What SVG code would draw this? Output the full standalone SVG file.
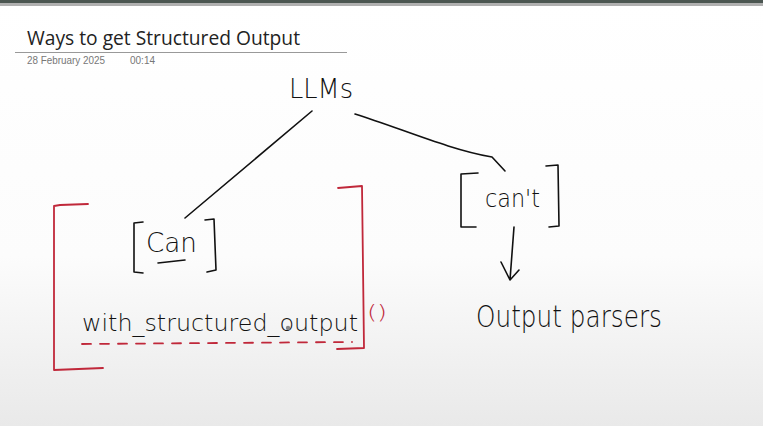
<svg xmlns="http://www.w3.org/2000/svg" width="763" height="426" viewBox="0 0 763 426">
<defs>
<linearGradient id="bg" x1="0" y1="0" x2="0" y2="426" gradientUnits="userSpaceOnUse">
<stop offset="0" stop-color="#ffffff"/>
<stop offset="0.6" stop-color="#fcfcfc"/>
<stop offset="1" stop-color="#e9e9e9"/>
</linearGradient>
<style>
.ink{fill:none;stroke:#111;stroke-width:1.6;stroke-linecap:round;stroke-linejoin:round}
.red{fill:none;stroke:#c0283a;stroke-width:1.8;stroke-linecap:round;stroke-linejoin:round}
.hw{font-family:"DejaVu Sans","Noto Sans",sans-serif;font-weight:300;fill:#111}
.meta{font-family:"Liberation Sans",Arial,sans-serif;font-size:10px;fill:#777}
</style>
</defs>
<rect width="763" height="426" fill="url(#bg)"/>
<rect width="763" height="3" fill="#4b5651"/>
<rect y="3" width="763" height="3" fill="#b0b0b0"/>
<g id="header">
<text x="27" y="45" font-family="'Open Sans','Liberation Sans',sans-serif" font-size="20" fill="#222" textLength="273" lengthAdjust="spacingAndGlyphs">Ways to get Structured Output</text>
<line x1="15" y1="52.5" x2="347" y2="52.5" stroke="#999" stroke-width="1"/>
<text class="meta" x="27" y="64" textLength="78" lengthAdjust="spacingAndGlyphs">28 February 2025</text>
<text class="meta" x="130" y="64" textLength="25" lengthAdjust="spacingAndGlyphs">00:14</text>
</g>
<g id="connectors">
<path class="ink" d="M312,111 L185,218"/>
<path class="ink" d="M355,114 C400,128 450,150 492,157 L505,171"/>
<path class="ink" d="M514,227 L510,280 M501,262 L510,280 L519,270"/>
</g>
<g id="llms">
<text class="hw" x="289" y="98" font-size="27" textLength="64" lengthAdjust="spacingAndGlyphs">LLMs</text>
</g>
<g id="can">
<path class="ink" d="M143,222 L134,223 L134,272 L143,273"/>
<path class="ink" d="M205,220 L214,219 L216,270 L207,272"/>
<text class="hw" x="146" y="252" font-size="26" textLength="51" lengthAdjust="spacingAndGlyphs">Can</text>
<path class="ink" d="M158,263 L185,260"/>
</g>
<g id="cant">
<path class="ink" d="M478,173 L461,174 L461,227 L476,227"/>
<path class="ink" d="M546,166 L558,165 L559,226 L549,227"/>
<text class="hw" x="485" y="207" font-size="24" textLength="55" lengthAdjust="spacingAndGlyphs">can't</text>
</g>
<g id="output-parsers">
<text class="hw" x="476" y="327" font-size="30" textLength="186" lengthAdjust="spacingAndGlyphs">Output parsers</text>
</g>
<g id="with-structured-output">
<path class="red" d="M88,204 L60,205 L54,206 L54,370 L103,368"/>
<path class="red" d="M338,188 L362,186 L364,348 L337,349"/>
<text class="hw" x="82" y="331" font-size="23.5" textLength="276" lengthAdjust="spacingAndGlyphs">with_structured_output</text>
<text x="367" y="319" font-family="'DejaVu Sans',sans-serif" font-weight="300" font-size="20" fill="#c0283a" textLength="20" lengthAdjust="spacingAndGlyphs">()</text>
<path class="red" d="M82,344 L352,342" stroke-dasharray="9,9"/>
<circle cx="288" cy="328" r="2.2" fill="#888"/>
</g>
</svg>
